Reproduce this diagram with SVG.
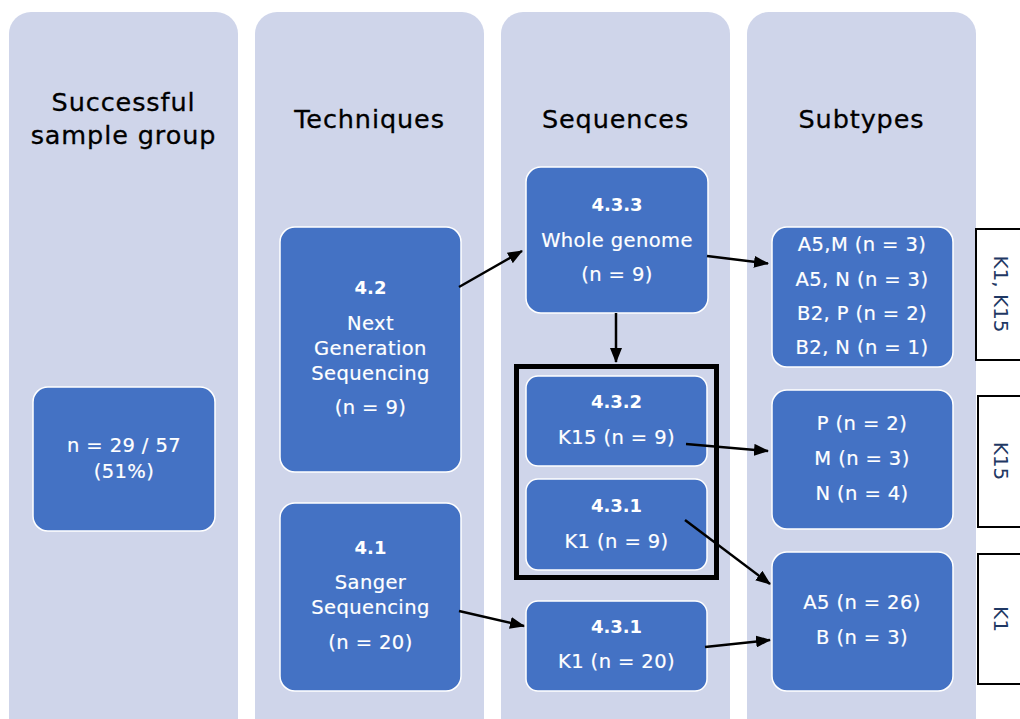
<svg xmlns="http://www.w3.org/2000/svg" width="1020" height="719" viewBox="0 0 1020 719">
<style>
.col{fill:#CFD5EA}
.nd{fill:#4472C4;stroke:#FFFFFF;stroke-width:1.5}
.title{font-family:"DejaVu Sans",sans-serif;font-size:25.5px;fill:#000000;stroke:#000000;stroke-width:0.3;text-anchor:middle;letter-spacing:0.9px}
.t{font-family:"DejaVu Sans",sans-serif;font-size:19.5px;fill:#FFFFFF;stroke:#FFFFFF;stroke-width:0.2;text-anchor:middle;letter-spacing:0.4px}
.b{font-family:"DejaVu Sans",sans-serif;font-size:18px;font-weight:bold;fill:#FFFFFF;text-anchor:middle}
.side{fill:#FFFFFF;stroke:#000000;stroke-width:2}
.st{font-family:"DejaVu Sans",sans-serif;font-size:20px;fill:#1F3864;text-anchor:middle;dominant-baseline:central}
.con line{stroke:#000000;stroke-width:2.5;marker-end:url(#ah)}
</style>
<defs>
<marker id="ah" markerUnits="userSpaceOnUse" markerWidth="15" markerHeight="12" refX="14" refY="6" orient="auto">
<path d="M0,0 L15,6 L0,12 Z" fill="#000000"/>
</marker>
</defs>
<rect width="1020" height="719" fill="#FFFFFF"/>
<g id="columns">
<rect class="col" x="9" y="12" width="229" height="740" rx="22"/>
<rect class="col" x="255" y="12" width="229" height="740" rx="22"/>
<rect class="col" x="501" y="12" width="229" height="740" rx="22"/>
<rect class="col" x="747" y="12" width="229" height="740" rx="22"/>
<text class="title" x="123.5" y="111">Successful</text>
<text class="title" x="123.5" y="144">sample group</text>
<text class="title" x="369.5" y="128">Techniques</text>
<text class="title" x="615.5" y="128">Sequences</text>
<text class="title" x="861.5" y="128">Subtypes</text>
</g>
<g id="n-sample">
<rect class="nd" x="33" y="387" width="182" height="144" rx="15"/>
<text class="t" x="124" y="452">n = 29 / 57</text>
<text class="t" x="124" y="478">(51%)</text>
</g>
<g id="n-ngs">
<rect class="nd" x="280" y="227" width="181" height="245" rx="15"/>
<text class="b" x="370.5" y="294">4.2</text>
<text class="t" x="370.5" y="330">Next</text>
<text class="t" x="370.5" y="355">Generation</text>
<text class="t" x="370.5" y="380">Sequencing</text>
<text class="t" x="370.5" y="414">(n = 9)</text>
</g>
<g id="n-sanger">
<rect class="nd" x="280" y="503" width="181" height="188" rx="15"/>
<text class="b" x="370.5" y="554">4.1</text>
<text class="t" x="370.5" y="589">Sanger</text>
<text class="t" x="370.5" y="614">Sequencing</text>
<text class="t" x="370.5" y="649">(n = 20)</text>
</g>
<g id="n-433">
<rect class="nd" x="526" y="167" width="182" height="146" rx="15"/>
<text class="b" x="617" y="211">4.3.3</text>
<text class="t" x="617" y="247">Whole genome</text>
<text class="t" x="617" y="281">(n = 9)</text>
</g>
<g id="group-box">
<rect x="516.5" y="366.5" width="200" height="211" fill="none" stroke="#000000" stroke-width="5"/>
</g>
<g id="n-432">
<rect class="nd" x="526" y="376" width="181" height="90" rx="12"/>
<text class="b" x="616.5" y="408">4.3.2</text>
<text class="t" x="616.5" y="444">K15 (n = 9)</text>
</g>
<g id="n-431a">
<rect class="nd" x="526" y="479" width="181" height="91" rx="12"/>
<text class="b" x="616.5" y="512">4.3.1</text>
<text class="t" x="616.5" y="548">K1 (n = 9)</text>
</g>
<g id="n-431b">
<rect class="nd" x="526" y="601" width="181" height="90" rx="12"/>
<text class="b" x="616.5" y="633">4.3.1</text>
<text class="t" x="616.5" y="668">K1 (n = 20)</text>
</g>
<g id="n-sub1">
<rect class="nd" x="772" y="227" width="181" height="140" rx="15"/>
<text class="t" x="862" y="251">A5,M (n = 3)</text>
<text class="t" x="862" y="286">A5, N (n = 3)</text>
<text class="t" x="862" y="320">B2, P (n = 2)</text>
<text class="t" x="862" y="354">B2, N (n = 1)</text>
</g>
<g id="n-sub2">
<rect class="nd" x="772" y="390" width="181" height="139" rx="15"/>
<text class="t" x="862" y="430">P (n = 2)</text>
<text class="t" x="862" y="465">M (n = 3)</text>
<text class="t" x="862" y="500">N (n = 4)</text>
</g>
<g id="n-sub3">
<rect class="nd" x="772" y="552" width="181" height="139" rx="15"/>
<text class="t" x="862" y="609">A5 (n = 26)</text>
<text class="t" x="862" y="644">B (n = 3)</text>
</g>
<g id="lbl-k1k15">
<rect class="side" x="976" y="229" width="60" height="131"/>
<text class="st" transform="translate(1001,294) rotate(90)">K1, K15</text>
</g>
<g id="lbl-k15">
<rect class="side" x="978" y="396" width="60" height="131"/>
<text class="st" transform="translate(1001,461) rotate(90)">K15</text>
</g>
<g id="lbl-k1">
<rect class="side" x="978" y="554" width="60" height="130"/>
<text class="st" transform="translate(1001,619) rotate(90)">K1</text>
</g>
<g id="connectors" class="con">
<line x1="459" y1="287" x2="522" y2="251"/>
<line x1="616" y1="313" x2="616" y2="362"/>
<line x1="707" y1="256" x2="768" y2="263.5"/>
<line x1="686" y1="444" x2="768" y2="451"/>
<line x1="685" y1="520" x2="770" y2="584"/>
<line x1="459" y1="611" x2="524" y2="626"/>
<line x1="705" y1="647" x2="770" y2="640"/>
</g>
</svg>
